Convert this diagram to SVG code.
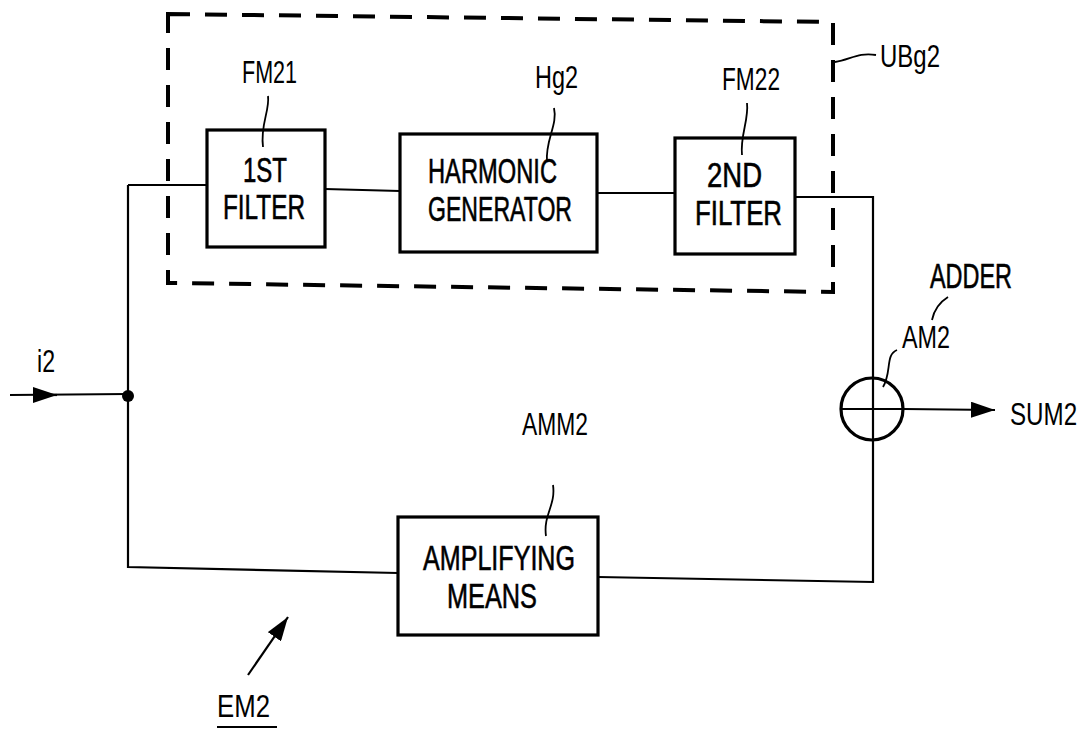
<svg xmlns="http://www.w3.org/2000/svg" width="1083" height="730" viewBox="0 0 1083 730">
<style>
.box{fill:none;stroke:#000;stroke-width:3.2}
.ln{fill:none;stroke:#000;stroke-width:2.2}
.lead{fill:none;stroke:#000;stroke-width:1.8}
.dash{fill:none;stroke:#000;stroke-width:4;stroke-dasharray:22 15}
.t{font-family:"Liberation Sans",Arial,sans-serif;font-size:35px;fill:#000;stroke:#000;stroke-width:0.6}
.l{font-family:"Liberation Sans",Arial,sans-serif;font-size:31px;fill:#000}
</style>
<defs>
<marker id="ahb" viewBox="0 0 24 16" markerWidth="24" markerHeight="16" refX="24" refY="8" orient="auto" markerUnits="userSpaceOnUse">
<path d="M0,0 L24,8 L0,16 Z" fill="#000"/>
</marker>
</defs>
<rect width="1083" height="730" fill="#fff"/>

<g id="UBg2">
<path class="dash" d="M168,14 L833,22 L833,292 L168,283 Z"/>
<path class="lead" d="M835,62 C850,60 858,52 876,55"/>
<text class="l" x="880" y="67" textLength="60" lengthAdjust="spacingAndGlyphs">UBg2</text>
</g>

<g id="connectors">
<path class="ln" d="M10,395 L128,394"/>
<path class="ln" d="M35,395 L57,395" marker-end="url(#ahb)"/>
<path class="ln" d="M128,185 L207,185"/>
<path class="ln" d="M128,185 L128,567 L398,573"/>
<path class="ln" d="M325,189 L400,191"/>
<path class="ln" d="M597,193 L675,193"/>
<path class="ln" d="M795,197 L873,197 L873,582 L598,577"/>
<path class="ln" d="M840,409 L904,409"/>
<path class="ln" d="M904,409 L995,410" marker-end="url(#ahb)"/>
<path class="ln" d="M248,675 L288,617" marker-end="url(#ahb)"/>
</g>

<circle cx="128" cy="396" r="6" fill="#000"/>
<text class="l" x="37" y="372" textLength="18" lengthAdjust="spacingAndGlyphs">i2</text>

<g id="FM21">
<rect class="box" x="207" y="130" width="118" height="117"/>
<text class="t" x="243" y="182" textLength="44" lengthAdjust="spacingAndGlyphs">1ST</text>
<text class="t" x="223" y="219" textLength="82" lengthAdjust="spacingAndGlyphs">FILTER</text>
<path class="lead" d="M268,96 C270,110 260,125 263,147"/>
<text class="l" x="242" y="83" textLength="55" lengthAdjust="spacingAndGlyphs">FM21</text>
</g>

<g id="Hg2">
<rect class="box" x="400" y="134" width="197" height="118"/>
<text class="t" x="428" y="183" textLength="129" lengthAdjust="spacingAndGlyphs">HARMONIC</text>
<text class="t" x="428" y="221" textLength="144" lengthAdjust="spacingAndGlyphs">GENERATOR</text>
<path class="lead" d="M554,108 C558,125 545,140 547,162"/>
<text class="l" x="535" y="88" textLength="43" lengthAdjust="spacingAndGlyphs">Hg2</text>
</g>

<g id="FM22">
<rect class="box" x="675" y="138" width="120" height="116"/>
<text class="t" x="707" y="187" textLength="55" lengthAdjust="spacingAndGlyphs">2ND</text>
<text class="t" x="695" y="225" textLength="87" lengthAdjust="spacingAndGlyphs">FILTER</text>
<path class="lead" d="M747,103 C749,120 740,135 742,155"/>
<text class="l" x="722" y="90" textLength="58" lengthAdjust="spacingAndGlyphs">FM22</text>
</g>

<g id="AMM2">
<rect class="box" x="398" y="517" width="200" height="118"/>
<text class="t" x="423" y="570" textLength="152" lengthAdjust="spacingAndGlyphs">AMPLIFYING</text>
<text class="t" x="447" y="608" textLength="90" lengthAdjust="spacingAndGlyphs">MEANS</text>
<path class="lead" d="M553,485 C556,505 543,515 546,536"/>
<text class="l" x="522" y="435" textLength="66" lengthAdjust="spacingAndGlyphs">AMM2</text>
</g>

<g id="AM2">
<circle cx="872" cy="409" r="31" fill="none" stroke="#000" stroke-width="3.2"/>
<text class="t" x="930" y="288" textLength="82" lengthAdjust="spacingAndGlyphs">ADDER</text>
<path class="lead" d="M948,297 C940,302 934,310 932,320"/>
<text class="l" x="902" y="348" textLength="48" lengthAdjust="spacingAndGlyphs">AM2</text>
<path class="lead" d="M897,350 C885,355 892,372 883,387"/>
<text class="l" transform="translate(1010,425) scale(0.78,1)" x="0" y="0">SUM2</text>
</g>

<g id="EM2">
<text class="l" x="217" y="717" textLength="53" lengthAdjust="spacingAndGlyphs">EM2</text>
<path class="ln" d="M217,727 L277,727"/>
</g>
</svg>
